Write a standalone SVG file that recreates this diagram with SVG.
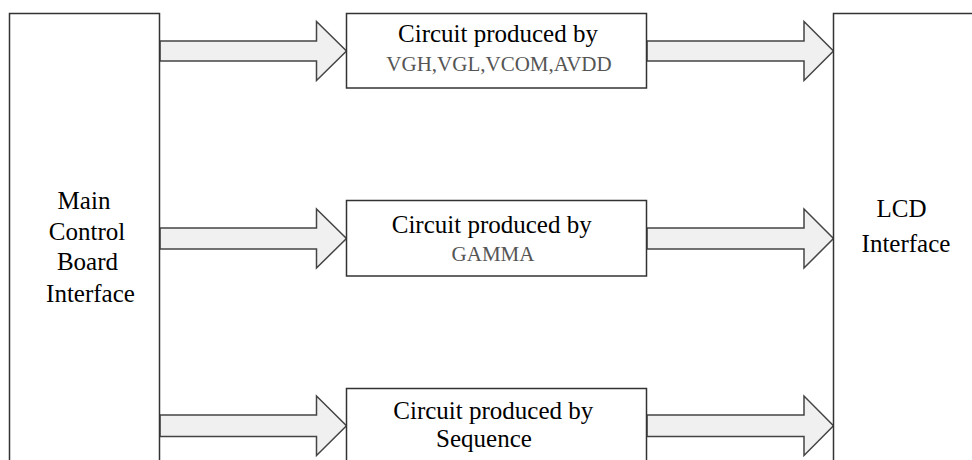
<svg xmlns="http://www.w3.org/2000/svg" width="972" height="460" viewBox="0 0 972 460">
<style>
.box{fill:#fff;stroke:#333;stroke-width:1.5}
.arrow{fill:#f0f0f0;stroke:#444;stroke-width:1.5;stroke-linejoin:miter}
.t{font-family:'Liberation Serif','Times New Roman',serif;font-size:25px;fill:#000;text-anchor:middle}
.s{font-family:'Liberation Serif','Times New Roman',serif;font-size:21px;fill:#555;text-anchor:middle}
</style>
<rect width="972" height="460" fill="#fff"/>
<g id="connectors">
<path class="arrow" d="M160,41 H316.5 V21.5 L346.5,51 L316.5,80.5 V61 H160 Z"/>
<path class="arrow" d="M647,41 H804 V21.5 L833.5,51 L804,80.5 V61 H647 Z"/>
<path class="arrow" d="M160,228 H316.5 V209 L346.5,238.5 L316.5,268 V249 H160 Z"/>
<path class="arrow" d="M647,228 H804 V209 L833.5,238.5 L804,268 V249 H647 Z"/>
<path class="arrow" d="M160,415 H316.5 V396 L346.5,425.7 L316.5,455.5 V436.5 H160 Z"/>
<path class="arrow" d="M647,415 H804 V396 L833.5,425.7 L804,455.5 V436.5 H647 Z"/>
</g>
<g id="main-board" font-family="Liberation Serif, serif">
<rect class="box" x="9.5" y="13.5" width="150" height="470"/>
<text class="t" font-family="Liberation Serif, serif" x="84" y="209">Main</text>
<text class="t" font-family="Liberation Serif, serif" x="87" y="240">Control</text>
<text class="t" font-family="Liberation Serif, serif" x="87.5" y="270">Board</text>
<text class="t" font-family="Liberation Serif, serif" x="90.5" y="301.5">Interface</text>
</g>
<g id="lcd">
<rect class="box" x="833.5" y="13.5" width="200" height="470"/>
<text class="t" font-family="Liberation Serif, serif" x="901.5" y="217">LCD</text>
<text class="t" font-family="Liberation Serif, serif" x="906" y="251.5">Interface</text>
</g>
<g id="vgh">
<rect class="box" x="346.5" y="13.5" width="300" height="74.5"/>
<text class="t" font-family="Liberation Serif, serif" x="498" y="41.5">Circuit produced by</text>
<text class="s" font-family="Liberation Serif, serif" x="499" y="70.5">VGH,VGL,VCOM,AVDD</text>
</g>
<g id="gamma">
<rect class="box" x="346.5" y="200.5" width="300" height="75.5"/>
<text class="t" font-family="Liberation Serif, serif" x="491.7" y="232.5">Circuit produced by</text>
<text class="s" font-family="Liberation Serif, serif" x="493" y="261">GAMMA</text>
</g>
<g id="sequence">
<rect class="box" x="346.5" y="388.5" width="300" height="100"/>
<text class="t" font-family="Liberation Serif, serif" x="493.3" y="419.3">Circuit produced by</text>
<text class="t" font-family="Liberation Serif, serif" x="484" y="447.3">Sequence</text>
</g>
</svg>
